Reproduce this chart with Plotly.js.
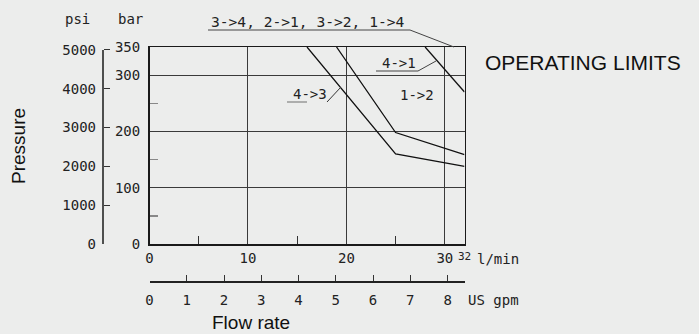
<!DOCTYPE html>
<html>
<head>
<meta charset="utf-8">
<script src="https://cdn.plot.ly/plotly-3.0.1.min.js"></script>
<style>
  html, body { margin: 0; padding: 0; background: #ecedec; }
  #chart { width: 699px; height: 334px; }
</style>
</head>
<body>
<div id="chart"></div>
<script>
// ---- data ----
const flow_4to3 = [16, 25, 32];
const bar_4to3  = [350, 160, 138];
const flow_1to2 = [19, 25, 32];
const bar_1to2  = [350, 198, 159];
const flow_4to1 = [28, 32];
const bar_4to1  = [350, 270];

const barTicks = [0, 100, 200, 300, 350];
const psiTicks = [0, 1000, 2000, 3000, 4000, 5000];
const lpmTicks = [0, 10, 20, 30];
const gpmTicks = [0, 1, 2, 3, 4, 5, 6, 7, 8];
const lpmMax = 32;
const barMax = 350;

const BAR_PER_PSI = 0.0689476;
const LPM_PER_GPM = 3.78541;

// ---- layout geometry (pixels) ----
const W = 699, H = 334;
const X0 = 149.5, X1 = 464.5, YT = 47, YB = 244;
const px = v => v / W;
const py = v => (H - v) / H;

const mono = 'DejaVu Sans Mono';
const ink = '#1a1a1a';
const tickFont = {family: mono, size: 14, color: '#222'};

const lineStyle = {color: '#111', width: 1.3};

const traces = [
  {x: flow_4to3, y: bar_4to3, mode: 'lines', line: lineStyle, hoverinfo: 'skip', showlegend: false},
  {x: flow_1to2, y: bar_1to2, mode: 'lines', line: lineStyle, hoverinfo: 'skip', showlegend: false},
  {x: flow_4to1, y: bar_4to1, mode: 'lines', line: lineStyle, hoverinfo: 'skip', showlegend: false},
  // carriers for secondary axes
  {x: [gpmTicks[0]], y: [0], xaxis: 'x2', yaxis: 'y', mode: 'markers', marker: {opacity: 0}, hoverinfo: 'skip', showlegend: false},
  {x: [0], y: [psiTicks[0]], xaxis: 'x', yaxis: 'y2', mode: 'markers', marker: {opacity: 0}, hoverinfo: 'skip', showlegend: false}
];

const seg = (x0, y0, x1, y1, color, width) => ({
  type: 'line', xref: 'paper', yref: 'paper',
  x0: px(x0), y0: py(y0), x1: px(x1), y1: py(y1),
  line: {color: color || '#333', width: width || 1}
});

const layout = {
  width: W, height: H,
  margin: {l: 0, r: 0, t: 0, b: 0},
  paper_bgcolor: '#ecedec',
  plot_bgcolor: '#ecedec',
  showlegend: false,
  xaxis: {
    domain: [px(X0), px(X1)],
    range: [0, lpmMax],
    tickmode: 'array', tickvals: lpmTicks, ticktext: lpmTicks.map(String),
    showgrid: true, gridcolor: '#3a3a3a', gridwidth: 1,
    zeroline: false,
    showline: true, linecolor: ink, linewidth: 1.5, mirror: true,
    ticks: '', ticklabelstandoff: 1,
    tickfont: tickFont,
    minor: {tickmode: 'array', tickvals: [5, 15, 25], ticks: 'inside', ticklen: 8, tickcolor: '#333', tickwidth: 1, showgrid: false}
  },
  yaxis: {
    domain: [py(YB), py(YT)],
    range: [0, barMax],
    tickmode: 'array', tickvals: barTicks, ticktext: barTicks.map(String),
    showgrid: true, gridcolor: '#3a3a3a', gridwidth: 1,
    zeroline: false,
    showline: true, linecolor: ink, linewidth: 1.5, mirror: true,
    ticks: '', ticklabelstandoff: 5,
    tickfont: tickFont,
    minor: {tickmode: 'array', tickvals: [50, 150, 250], ticks: 'inside', ticklen: 8, tickcolor: '#888', tickwidth: 1.5, showgrid: false}
  },
  yaxis2: {
    overlaying: 'y', anchor: 'free', position: px(103), side: 'left',
    range: [0, barMax / BAR_PER_PSI],
    tickmode: 'array', tickvals: psiTicks, ticktext: psiTicks.map(String),
    showgrid: false, zeroline: false, showline: false,
    ticks: 'inside', ticklen: 6, tickcolor: '#333', tickwidth: 1,
    ticklabelstandoff: 7,
    tickfont: tickFont
  },
  xaxis2: {
    overlaying: 'x', anchor: 'free', position: py(281), side: 'bottom',
    range: [0, lpmMax / LPM_PER_GPM],
    tickmode: 'array', tickvals: gpmTicks, ticktext: gpmTicks.map(String),
    showgrid: false, zeroline: false,
    showline: true, linecolor: '#222', linewidth: 1.5,
    ticks: 'inside', ticklen: 6, tickcolor: '#333', tickwidth: 1,
    ticklabelstandoff: 6,
    tickfont: tickFont
  },
  shapes: [
    // psi axis line (0..5000 psi)
    {type: 'line', xref: 'paper', yref: 'y2', x0: px(103), x1: px(103), y0: psiTicks[0], y1: psiTicks[psiTicks.length - 1], line: {color: ink, width: 1.5}},
    // top label underline + leader
    seg(208, 30, 410, 30, '#444', 1),
    seg(410, 30, 454, 47, '#444', 1),
    // 4->1 underline + leader
    seg(376, 71, 418, 71, '#444', 1),
    seg(418, 71, 436, 61, '#444', 1),
    // 4->3 underline + leader
    seg(287, 102, 307, 102, '#999', 1.5),
    seg(327, 102, 341, 87, '#333', 1)
  ],
  annotations: [
    {xref: 'paper', yref: 'paper', x: px(77), y: py(19), text: 'psi', showarrow: false, font: tickFont, xanchor: 'center', yanchor: 'middle'},
    {xref: 'paper', yref: 'paper', x: px(130), y: py(19), text: 'bar', showarrow: false, font: tickFont, xanchor: 'center', yanchor: 'middle'},
    {xref: 'paper', yref: 'paper', x: px(209), y: py(21), text: '3->4, 2->1, 3->2, 1->4', showarrow: false, font: {family: mono, size: 14.6, color: '#222'}, xanchor: 'left', yanchor: 'middle'},
    {xref: 'x', yref: 'y', x: (291 - X0) / (X1 - X0) * lpmMax, y: (YB - 94) / (YB - YT) * barMax, text: '4->3', showarrow: false, font: tickFont, xanchor: 'left', yanchor: 'middle'},
    {xref: 'x', yref: 'y', x: (398 - X0) / (X1 - X0) * lpmMax, y: (YB - 95) / (YB - YT) * barMax, text: '1->2', showarrow: false, font: tickFont, xanchor: 'left', yanchor: 'middle'},
    {xref: 'x', yref: 'y', x: (380 - X0) / (X1 - X0) * lpmMax, y: (YB - 63) / (YB - YT) * barMax, text: '4->1', showarrow: false, font: tickFont, xanchor: 'left', yanchor: 'middle'},
    {xref: 'x', yref: 'paper', x: lpmMax, y: py(256), text: String(lpmMax), showarrow: false, font: {family: mono, size: 11, color: '#222'}, xanchor: 'center', yanchor: 'middle'},
    {xref: 'paper', yref: 'paper', x: px(475), y: py(259), text: 'l/min', showarrow: false, font: tickFont, xanchor: 'left', yanchor: 'middle'},
    {xref: 'paper', yref: 'paper', x: px(466), y: py(300), text: 'US gpm', showarrow: false, font: tickFont, xanchor: 'left', yanchor: 'middle'},
    {xref: 'paper', yref: 'paper', x: px(483), y: py(62), text: 'OPERATING LIMITS', showarrow: false, font: {family: 'Liberation Sans, Arial, sans-serif', size: 21, color: '#111'}, xanchor: 'left', yanchor: 'middle'},
    {xref: 'paper', yref: 'paper', x: px(251), y: py(322), text: 'Flow rate', showarrow: false, font: {family: 'Liberation Sans, Arial, sans-serif', size: 19, color: '#111'}, xanchor: 'center', yanchor: 'middle'},
    {xref: 'paper', yref: 'paper', x: px(18), y: py(146), text: 'Pressure', textangle: -90, showarrow: false, font: {family: 'Liberation Sans, Arial, sans-serif', size: 19, color: '#111'}, xanchor: 'center', yanchor: 'middle'}
  ]
};

Plotly.newPlot('chart', traces, layout, {staticPlot: true, displayModeBar: false});
</script>
</body>
</html>
